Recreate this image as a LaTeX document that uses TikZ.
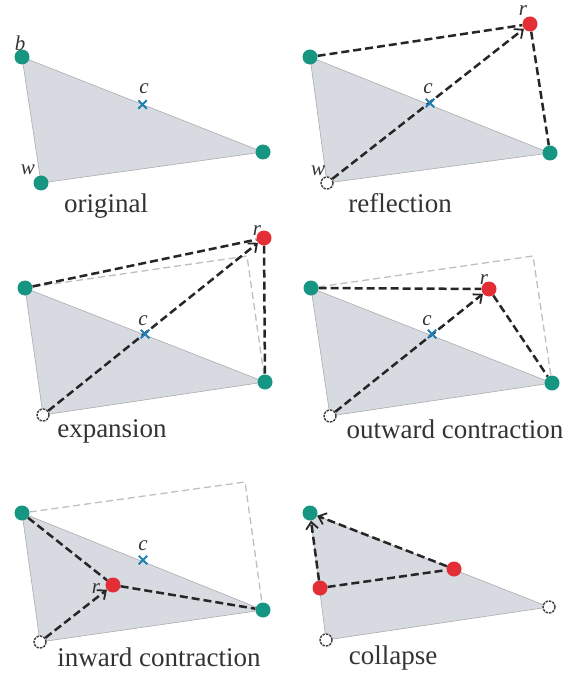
\documentclass[tikz,border=0pt]{standalone}
\usepackage{fontspec}
\setmainfont{Liberation Serif}
\usetikzlibrary{arrows.meta,shapes.misc}
\pgfdeclarelayer{fillayer}
\pgfdeclarelayer{linelayer}
\pgfsetlayers{fillayer,linelayer,main}
\definecolor{tealc}{RGB}{22,150,130}
\definecolor{redc}{RGB}{226,46,52}
\definecolor{bluec}{RGB}{30,128,178}
\definecolor{trifill}{RGB}{215,218,225}
\tikzset{
  pt/.style={circle,inner sep=0pt,minimum size=15pt},
  bestpt/.style={pt,fill=tealc},
  newpt/.style={pt,fill=redc},
  oldpt/.style={circle,inner sep=0pt,minimum size=12pt,draw=black!75,fill=white,line width=1.4pt,dash pattern=on 2.5pt off 1pt},
  cmark/.style={cross out,draw=bluec,line width=2pt,minimum size=6.5pt,inner sep=0pt},
  tri/.style={fill=trifill},
  edge/.style={draw=gray!65,line width=0.6pt},
  move/.style={draw=black!85,line width=2.5pt,dash pattern=on 8pt off 4pt},
  ghost/.style={draw=gray!50,line width=1.3pt,dash pattern=on 7pt off 4pt},
  tip/.style={-{Straight Barb[length=7pt,width=12pt,line width=1.8pt]}},
  caption/.style={font=\fontsize{27}{29}\selectfont,anchor=base,text=black!80,inner sep=0pt},
  var/.style={font=\fontsize{21}{23}\selectfont\itshape,text=black!80,inner sep=0pt},
}
\begin{document}
\begin{tikzpicture}[x=1pt,y=-1pt]
\useasboundingbox (0,0) rectangle (568,676);

% ---------- panel 1: original ----------
\node[bestpt] (b1) at (22,57) {};
\node[bestpt] (s1) at (263,152) {};
\node[bestpt] (w1) at (41,183) {};
\node[cmark] (c1) at (142.5,104.5) {};
\node[var] (lb1) at (20,43) {b};
\node[var] (lc1) at (144,89) {c};
\node[var] (lw1) at (28,170) {w};
\node[caption] (t1) at (106,212) {original};
\begin{pgfonlayer}{fillayer}
  \fill[tri] (b1.center) -- (s1.center) -- (w1.center) -- cycle;
\end{pgfonlayer}
\begin{pgfonlayer}{linelayer}
  \draw[edge] (b1.center) -- (s1.center) -- (w1.center) -- cycle;
\end{pgfonlayer}

% ---------- panel 2: reflection ----------
\node[bestpt] (b2) at (310,57) {};
\node[bestpt] (s2) at (550,153) {};
\node[oldpt] (w2) at (327,183) {};
\node[cmark] (c2) at (430,103) {};
\node[newpt] (r2) at (530,24) {};
\node[var] (lc2) at (428,89) {c};
\node[var] (lw2) at (318,171) {w};
\node[var] (lr2) at (523,11) {r};
\node[caption] (t2) at (400,212) {reflection};
\begin{pgfonlayer}{fillayer}
  \fill[tri] (b2.center) -- (s2.center) -- (w2.center) -- cycle;
\end{pgfonlayer}
\begin{pgfonlayer}{linelayer}
  \draw[edge] (b2.center) -- (s2.center) -- (w2.center) -- cycle;
  \draw[move] (b2) -- (r2);
  \draw[move] (r2) -- (s2);
  \draw[move,tip] (w2) -- (r2);
\end{pgfonlayer}

% ---------- panel 3: expansion ----------
\node[bestpt] (b3) at (25,288) {};
\node[bestpt] (s3) at (265,382) {};
\node[oldpt] (w3) at (43,415) {};
\node[cmark] (c3) at (145,334) {};
\coordinate (g3) at (247,256);
\node[var] (lr3) at (257,231) {r};
\node[newpt] (e3) at (264,238) {};
\node[var] (lc3) at (143,321) {c};
\node[caption] (t3) at (112,437) {expansion};
\begin{pgfonlayer}{fillayer}
  \fill[tri] (b3.center) -- (s3.center) -- (w3.center) -- cycle;
\end{pgfonlayer}
\begin{pgfonlayer}{linelayer}
  \draw[edge] (b3.center) -- (s3.center) -- (w3.center) -- cycle;
  \draw[ghost] (b3) -- (g3) -- (s3);
  \draw[move] (b3) -- (e3);
  \draw[move] (e3) -- (s3);
  \draw[move,tip] (w3) -- (e3);
\end{pgfonlayer}

% ---------- panel 4: outward contraction ----------
\node[bestpt] (b4) at (311,288) {};
\node[bestpt] (s4) at (552,383) {};
\node[oldpt] (w4) at (330,416) {};
\node[cmark] (c4) at (432,334) {};
\coordinate (g4) at (533,256);
\node[var] (lr4) at (484,280) {r};
\node[newpt] (o4) at (489,289) {};
\node[var] (lc4) at (427,321) {c};
\node[caption] (t4) at (455,438) {outward contraction};
\begin{pgfonlayer}{fillayer}
  \fill[tri] (b4.center) -- (s4.center) -- (w4.center) -- cycle;
\end{pgfonlayer}
\begin{pgfonlayer}{linelayer}
  \draw[edge] (b4.center) -- (s4.center) -- (w4.center) -- cycle;
  \draw[ghost] (b4) -- (g4) -- (s4);
  \draw[move] (b4) -- (o4);
  \draw[move] (o4) -- (s4);
  \draw[move,tip] (w4) -- (o4);
\end{pgfonlayer}

% ---------- panel 5: inward contraction ----------
\node[bestpt] (b5) at (22,513) {};
\node[bestpt] (s5) at (263,610) {};
\node[oldpt] (w5) at (40,642) {};
\node[cmark] (c5) at (143,560) {};
\coordinate (g5) at (245,482);
\node[newpt] (i5) at (113,585) {};
\node[var] (lr5) at (96,589) {r};
\node[var] (lc5) at (143,546) {c};
\node[caption] (t5) at (159,666) {inward contraction};
\begin{pgfonlayer}{fillayer}
  \fill[tri] (b5.center) -- (s5.center) -- (w5.center) -- cycle;
\end{pgfonlayer}
\begin{pgfonlayer}{linelayer}
  \draw[edge] (b5.center) -- (s5.center) -- (w5.center) -- cycle;
  \draw[ghost] (b5) -- (g5) -- (s5);
  \draw[move] (b5) -- (i5);
  \draw[move] (i5) -- (s5);
  \draw[move,tip] (w5) -- (i5);
\end{pgfonlayer}

% ---------- panel 6: collapse ----------
\node[bestpt] (b6) at (310,513) {};
\node[oldpt] (s6) at (549,607) {};
\node[oldpt] (w6) at (326,640) {};
\node[newpt] (m6) at (454,569) {};
\node[newpt] (n6) at (320,588) {};
\node[caption] (t6) at (393,664) {collapse};
\begin{pgfonlayer}{fillayer}
  \fill[tri] (b6.center) -- (s6.center) -- (w6.center) -- cycle;
\end{pgfonlayer}
\begin{pgfonlayer}{linelayer}
  \draw[edge] (b6.center) -- (s6.center) -- (w6.center) -- cycle;
  \draw[move,tip] (m6) -- (b6);
  \draw[move,tip] (n6) -- (b6);
  \draw[move] (n6) -- (m6);
\end{pgfonlayer}
\end{tikzpicture}
\end{document}
